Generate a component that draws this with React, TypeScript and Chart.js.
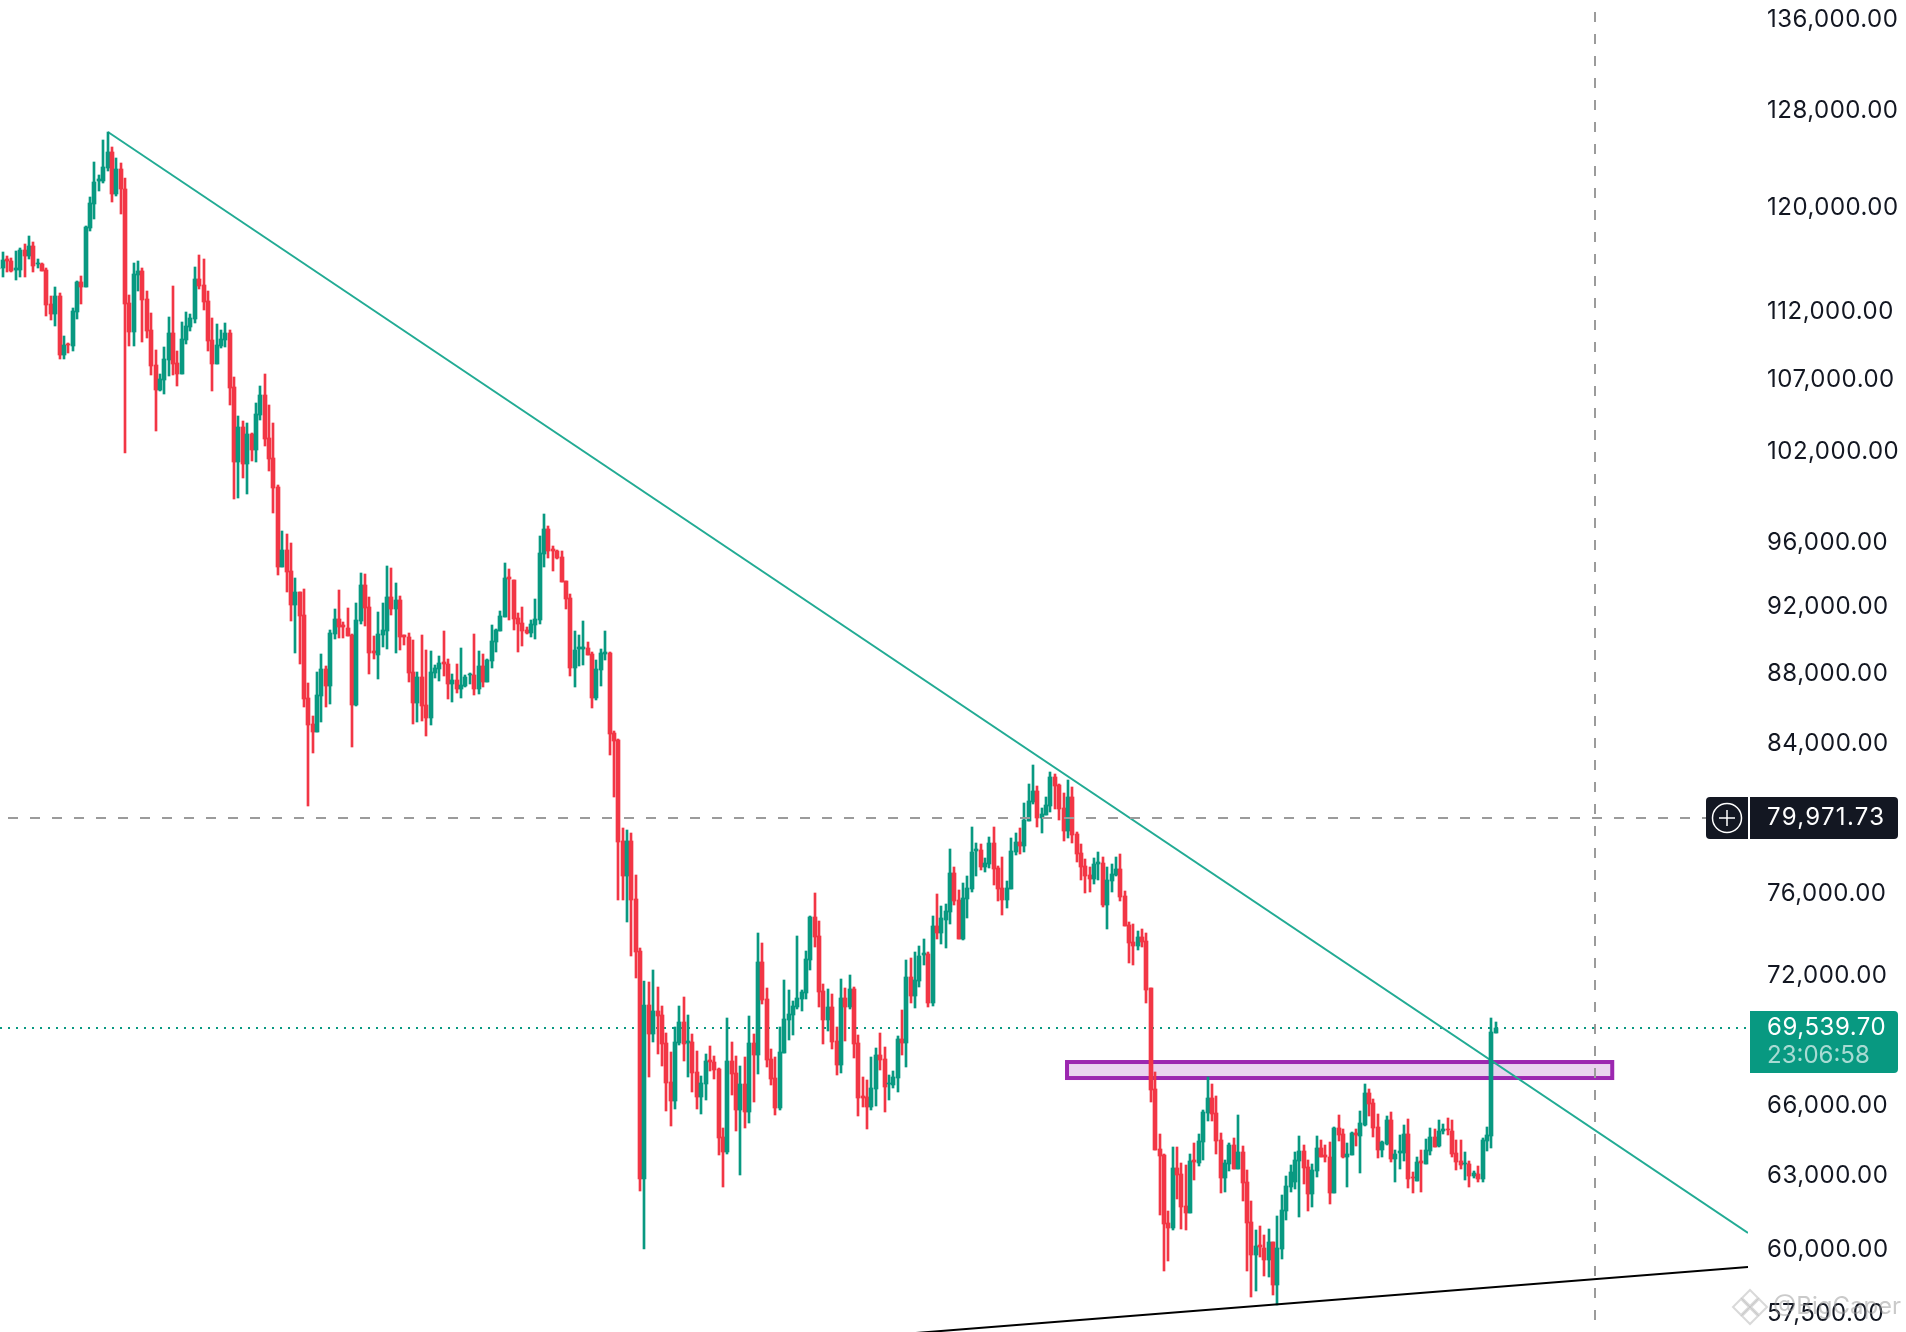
import React, { useEffect, useRef } from "react";
import { Chart, registerables } from "chart.js";

Chart.register(...registerables);

const priceTicks = [136000, 128000, 120000, 112000, 107000, 102000, 96000, 92000, 88000, 84000, 76000, 72000, 66000, 63000, 60000, 57500];

const opens = [
115270,115320,115990,115840,115170,115140,116690,116220,117000,115600,
115600,115140,112570,111830,113170,108810,109610,109470,111980,114200,
113850,118400,120310,122170,122170,123230,124550,121120,123140,121520,
112650,110490,114760,115070,112950,110640,108090,106300,107020,108450,
110410,108230,107440,109900,110860,111460,114430,113980,112800,109900,
108160,109470,109900,110410,106520,101330,103750,101190,103220,102140,
104550,105950,102950,101600,99660,94500,95570,94250,92140,92940,
91520,86610,85120,84670,86720,88290,87300,90380,91280,90900,
90740,90320,86200,91160,93370,92010,89360,89120,90320,90560,
92630,91890,92450,90300,90200,88120,86320,87820,86200,85460,
88060,88290,88710,88590,87410,87650,87130,87300,87920,87940,
87130,88470,87530,88770,89890,90560,91400,93870,93680,91340,
91040,90620,90440,90920,91220,95320,96920,95630,95510,95130,
93620,92570,88350,89480,89480,89540,89180,86610,88240,89180,
89240,84620,84220,78740,76930,78740,75760,73190,62880,70600,
69250,70310,70120,68830,67060,66230,68820,69810,68830,68880,
67520,66410,66990,68070,67980,67660,64660,64020,68020,67470,
65840,66990,65750,68830,68290,72650,70880,68110,67260,65920,
68380,69900,70130,70510,70880,71160,72750,74860,73920,71260,
69900,70500,68930,67840,70930,70500,71360,68830,66450,66410,
65970,66760,68290,68110,66970,66940,67260,69020,68830,71920,
71020,71740,72990,73020,70700,74410,74060,74700,75110,77080,
75710,73770,75760,76260,78220,78270,77390,77550,78640,77340,
76320,75710,76260,78170,78690,78480,79800,80810,81390,79960,
80120,80600,82170,81740,80490,79270,81080,79110,78120,77450,
76980,76770,77550,77600,75460,76670,76980,77290,75910,74460,
73620,73430,73870,73670,71380,66760,64150,63890,61060,60860,
63340,63090,61760,61470,63680,63560,64450,65700,66360,65700,
64530,62920,63510,64320,63300,64010,62760,61100,59780,60180,
60060,59580,60300,58600,60010,61550,62550,62750,63640,64060,
63380,62250,63220,64190,63890,63800,62300,65060,64790,63800,
63890,64840,64700,65190,66580,66140,65100,64110,64360,65400,
63720,63990,63980,64790,62960,62800,63640,63510,64060,64660,
64280,64920,65000,64920,63980,63640,63510,63510,63000,63090,
62880,64490,64700,69300];

const highs = [
115910,116530,116220,116060,116610,116840,117150,117780,117310,115990,
115680,115290,113170,113850,113400,110190,109690,112270,114280,114670,
118560,120870,123720,122660,125550,126210,124970,124050,123640,122410,
113250,115680,115840,115290,113550,111900,109180,107440,109390,111600,
113900,109100,111230,111980,111830,115370,116300,115990,113550,111530,
111080,110630,111150,110630,107230,104480,104130,103980,103280,105380,
106590,107440,105240,103980,99800,96790,96600,96020,93810,92940,
93120,87470,85570,88120,89180,88470,90620,91890,93060,91100,
91950,90380,92260,94120,94060,92630,90260,91710,92260,94560,
94430,93490,92700,90320,90440,90020,88120,90320,89420,89360,
88500,89060,90560,88880,88000,88590,89540,87940,88060,90380,
89360,89180,88880,90900,90660,91770,94750,94370,93680,91650,
92010,90800,91220,92510,96450,97890,97110,95820,95570,95510,
93620,92820,90560,90320,91160,89890,89300,88830,89480,90560,
89300,84730,84280,79430,79320,79160,76980,73330,71740,71690,
72260,71450,70550,69300,68430,69580,70550,70980,70120,69250,
68460,67340,68340,68710,68250,67700,65050,69990,68880,68250,
67790,68200,70090,69250,74070,73580,71400,68570,68200,69570,
71780,71310,70790,73920,71310,73190,74910,76050,74660,71590,
71360,71120,69570,71840,71400,72020,71450,69200,67300,67170,
68200,68610,69300,68650,67390,67570,69160,70360,72750,72850,
73140,73430,73770,73120,74910,76020,75410,75510,78330,77390,
76220,76560,76930,79480,78640,78580,77860,78950,79480,77450,
77910,76670,78900,79160,79430,80760,81790,82830,81670,80490,
81080,82440,82330,81790,81300,82000,81620,79220,78580,77810,
77390,77860,78170,77910,77390,77550,77910,78060,76170,74610,
74510,74160,74260,74060,71380,67520,64790,63940,61550,64230,
64230,63560,63470,63940,64400,64790,65830,67290,66980,66450,
64830,63680,64400,64620,65610,64270,63260,61960,60780,60950,
60580,60820,60300,61340,62210,63000,63470,64010,64700,64320,
63680,63510,64700,64530,64320,64450,65100,65610,64990,64400,
64880,64990,65790,66980,66760,66320,65660,64490,65570,65740,
64110,64750,65180,65440,63170,63800,64110,64570,65060,64990,
65400,65220,65480,65400,64530,64530,64010,63640,63220,63430,
64620,65100,69990,69810];

const lows = [
113800,114640,115020,115000,114340,114640,114640,116010,115020,115320,
115070,111680,111380,110930,108520,108520,108960,109100,111460,112570,
113850,118170,119110,121360,122010,122980,120470,120960,119520,101930,
109470,109470,113550,109760,110050,107370,103420,106230,106020,107300,
107370,106590,107440,109610,110560,111160,113680,112130,109100,106230,
108160,109320,109390,105240,98860,98930,100260,99200,101400,101330,
104200,102410,100720,97950,94000,94500,92940,91160,89240,88590,
86090,80600,83500,84670,85240,86090,86260,90080,90140,90140,
90260,83830,86150,90980,90860,88000,88880,87700,89600,89480,
91520,89240,89420,89720,87530,85120,85220,85290,84450,85050,
87760,87590,87880,86550,86370,86900,86610,87240,87410,86780,
86840,87240,87530,88350,89300,90560,91400,91220,90620,89300,
89660,90380,90200,90080,90980,94500,95070,94250,95000,93560,
91890,87880,87240,88470,88530,89120,86030,86490,87300,88830,
83390,81090,75710,75710,74610,72940,71880,62380,60020,67300,
68880,68340,67790,65790,65140,65880,68750,68020,67300,66630,
65880,65660,66270,67570,67210,63890,62550,63940,66500,64920,
63050,65050,65280,66190,67430,70650,67750,66950,65620,65840,
68380,68980,69200,70410,70320,70880,72260,73380,70500,68790,
69390,68570,67380,67480,68930,70410,68160,65580,65970,65010,
65840,66010,67610,65750,66270,66800,66630,68290,67750,70690,
70450,71450,72500,70510,70550,73770,73520,73330,74510,75460,
73770,73720,74810,76120,76930,77240,77130,77340,76460,75660,
74950,75310,76260,78000,78060,78170,79800,80700,79480,79160,
80120,80280,80440,79850,78740,78900,78640,77650,76720,76070,
76120,76510,76720,75360,74260,76120,76930,75660,74410,72600,
72500,73220,73380,70700,66190,64110,61390,59140,59540,60780,
62050,60820,60780,61470,62840,63430,63680,65350,65350,63940,
62290,62340,63220,63300,63300,61960,59140,58130,58370,59700,
58950,58910,58220,57820,59620,61190,62340,62460,61310,62670,
61550,61720,62960,63800,63600,61840,62300,64490,63760,62550,
63890,64280,63130,65140,65570,64660,63760,63800,64320,63600,
62750,63300,63640,62500,62300,62800,62340,63510,63890,64230,
64230,64790,64750,63800,63260,63300,62840,62550,62920,62760,
62760,64060,64190,69300];

const closes = [
115320,115910,115840,115070,115290,116690,116220,117000,115450,115650,
115070,112520,111830,113170,108810,109540,109510,112050,114200,113850,
118480,120390,122090,122330,123310,124550,121120,123140,121500,112570,
110490,114840,115070,112870,110560,108010,106300,107090,108520,110410,
108160,107440,109980,110930,111530,114430,113900,112720,109830,108160,
109540,109980,110410,106450,101330,103750,101190,103220,102140,104620,
105950,102880,101530,99590,94500,95570,94180,92140,92940,91460,
86550,85070,84670,86780,88290,87300,90440,91280,90800,90820,
90260,86200,91220,93370,91950,89240,89260,90380,90620,92630,
91890,92450,90200,90220,88060,86320,87820,86150,85460,88120,
88350,88650,88590,87410,87650,87130,87360,87820,88000,87130,
88470,87530,88830,89950,90620,91460,93810,93740,91280,90980,
90560,90440,90980,91280,95380,96920,95510,95510,95070,93560,
92510,88350,89420,89570,89570,89120,86610,88290,89240,89280,
84560,84170,78690,76930,78740,75710,73140,62880,70600,69250,
70310,70090,68790,67030,66230,68880,69810,68790,68930,67480,
66410,67030,68020,67980,67610,64620,64020,68020,67430,65840,
66990,65750,68830,68290,72650,70830,68060,67210,65920,68430,
69950,70180,70550,70930,71210,72800,74860,73870,71210,69900,
70500,68880,67840,70930,70500,71360,68790,66360,66360,65970,
66800,68290,68060,66850,67030,67300,69020,68830,71920,71020,
71780,72940,73090,70700,74410,74060,74810,75160,77080,75660,
73770,75810,76320,78170,78330,77390,77600,78640,77290,76260,
75710,76320,78220,78690,78480,79850,80870,81390,79960,80170,
80650,82170,81670,80440,79270,81080,79060,78060,77390,76930,
76770,77550,77650,75460,76720,77030,77290,75860,74410,73570,
73430,73870,73620,71300,66720,64110,63850,61020,60860,63340,
63050,61720,61470,63640,63600,64490,65740,66360,65660,64490,
62920,63560,64320,63300,64010,62710,61060,59780,60140,60100,
59580,60300,58600,60060,61590,62590,63170,63680,64060,63340,
62250,63260,64190,63800,63800,62300,65060,64750,63800,63940,
64840,64750,65270,66580,66100,65060,64110,64450,65400,63720,
63940,64060,64790,62880,62910,63600,63560,64110,64660,64230,
64920,65000,64950,63940,63600,63470,63560,63000,63130,62880,
64530,64750,69340,69540];

const downtrend = [
  { x: 25.1, y: 126215 },
  { x: 400.8, y: 60660 },
];
const supportLine = [
  { x: 206.6, y: 56708 },
  { x: 400.8, y: 59302 },
];
const resistanceZone = { xMin: 244.8, xMax: 369.7, yMin: 67250, yMax: 67970 };
const crosshairPrice = 79971.73;
const crosshairTime = 365.8;
const lastPrice = 69539.7;
const countdown = "23:06:58";
const watermark = "@BigCaper";

const UP = "#089981";
const DOWN = "#f23645";
const FONT = "Inter";

function money(v: number) {
  return v.toLocaleString("en-US", { minimumFractionDigits: 2, maximumFractionDigits: 2 });
}

const snapBars = {
  id: "snapBars",
  beforeDraw(chart: any) {
    chart.ctx.letterSpacing = "0.5px";
  },
  beforeDatasetsDraw(chart: any) {
    chart.data.datasets.forEach((ds: any, i: number) => {
      if (ds.type === "line") return;
      chart.getDatasetMeta(i).data.forEach((el: any) => {
        el.x = Math.round(el.x);
        el.y = Math.round(el.y);
        el.base = Math.round(el.base);
        if (el.y === el.base) el.base = el.y + 1;
      });
    });
    const { ctx, chartArea } = chart;
    const xs = chart.scales.x;
    const ys = chart.scales.y;
    // price line of the last trade, under the candles
    ctx.save();
    ctx.strokeStyle = UP;
    ctx.lineWidth = 2;
    ctx.setLineDash([2, 6]);
    ctx.beginPath();
    const py = Math.round(ys.getPixelForValue(lastPrice));
    ctx.moveTo(0, py);
    ctx.lineTo(chartArea.right, py);
    ctx.stroke();
    ctx.setLineDash([]);
    // resistance zone
    const l = xs.getPixelForValue(resistanceZone.xMin);
    const r = xs.getPixelForValue(resistanceZone.xMax);
    const t = ys.getPixelForValue(resistanceZone.yMax);
    const b = ys.getPixelForValue(resistanceZone.yMin);
    ctx.fillStyle = "#ead3ef";
    ctx.fillRect(l, t, r - l, b - t);
    ctx.strokeStyle = "#9c27b0";
    ctx.lineWidth = 4;
    ctx.strokeRect(l, t, r - l, b - t);
    ctx.restore();
  },
};

function roundBox(ctx: any, x: number, y: number, w: number, h: number, radii: number[], fill: string) {
  ctx.fillStyle = fill;
  ctx.beginPath();
  ctx.roundRect(x, y, w, h, radii);
  ctx.fill();
}

const overlays = {
  id: "overlays",
  afterDatasetsDraw(chart: any) {
    const { ctx, chartArea } = chart;
    const xs = chart.scales.x;
    const ys = chart.scales.y;
    const cy = Math.round(ys.getPixelForValue(crosshairPrice));
    const cx = Math.round(xs.getPixelForValue(crosshairTime));
    const ly = Math.round(ys.getPixelForValue(lastPrice));
    ctx.save();
    ctx.strokeStyle = "#9b9b9b";
    ctx.lineWidth = 2;
    ctx.setLineDash([10, 12]);
    ctx.beginPath();
    ctx.moveTo(8, cy);
    ctx.lineTo(1706, cy);
    ctx.moveTo(cx, 12);
    ctx.lineTo(cx, 1322);
    ctx.stroke();
    ctx.setLineDash([]);

    // crosshair price badge
    const right = chartArea.right;
    roundBox(ctx, right - 42, cy - 21, 42, 42, [4, 0, 0, 4], "#131722");
    roundBox(ctx, right + 2, cy - 21, 148, 42, [0, 4, 4, 0], "#131722");
    ctx.strokeStyle = "#ffffff";
    ctx.lineWidth = 1.5;
    ctx.beginPath();
    ctx.arc(right - 21, cy, 14.5, 0, Math.PI * 2);
    ctx.moveTo(right - 29, cy);
    ctx.lineTo(right - 13, cy);
    ctx.moveTo(right - 21, cy - 8);
    ctx.lineTo(right - 21, cy + 8);
    ctx.stroke();
    ctx.font = `24px ${FONT}`;
    ctx.textAlign = "left";
    ctx.textBaseline = "middle";
    ctx.fillStyle = "#ffffff";
    ctx.letterSpacing = "1.3px";
    ctx.fillText(money(crosshairPrice), 1767, cy);

    // last price badge
    roundBox(ctx, right + 2, ly - 17, 148, 62, [0, 4, 4, 0], UP);
    ctx.fillStyle = "#ffffff";
    ctx.letterSpacing = "0.55px";
    ctx.fillText(money(lastPrice), 1767, ly);
    ctx.fillStyle = "rgba(255,255,255,0.65)";
    ctx.letterSpacing = "0px";
    ctx.fillText(countdown, 1767, ly + 28);
    ctx.restore();
  },
  afterDraw(chart: any) {
    const { ctx } = chart;
    ctx.save();
    // source watermark
    ctx.strokeStyle = "rgba(170,170,170,0.45)";
    ctx.lineWidth = 2;
    const mark = (x: number, y: number, s: number) => {
      ctx.beginPath();
      ctx.moveTo(x, y - s);
      ctx.lineTo(x + s, y);
      ctx.lineTo(x, y + s);
      ctx.lineTo(x - s, y);
      ctx.closePath();
      ctx.stroke();
    };
    mark(1750, 1298, 8);
    mark(1750, 1316, 8);
    mark(1741, 1307, 8);
    mark(1759, 1307, 8);
    ctx.font = `24px ${FONT}`;
    ctx.fillStyle = "rgba(150,150,150,0.5)";
    ctx.textAlign = "left";
    ctx.textBaseline = "middle";
    ctx.letterSpacing = "0px";
    ctx.fillText(watermark, 1773, 1307);
    ctx.restore();
  },
};

export default function App() {
  const ref = useRef<HTMLCanvasElement>(null);
  useEffect(() => {
    if (!ref.current) return;
    const colors = closes.map((c, i) => (c >= opens[i] ? UP : DOWN));
    const chart = new Chart(ref.current, {
      type: "bar",
      data: {
        datasets: [
          {
            type: "line",
            data: downtrend,
            borderColor: "#22ab94",
            borderWidth: 2,
            pointRadius: 0,
            order: 4,
          },
          {
            type: "line",
            data: supportLine,
            borderColor: "#000000",
            borderWidth: 2,
            pointRadius: 0,
            order: 0,
          },
          {
            data: highs.map((h, i) => ({ x: i, y: [lows[i], h] })),
            backgroundColor: colors,
            barThickness: 2,
            grouped: false,
            order: 3,
          },
          {
            data: opens.map((o, i) => ({ x: i, y: [Math.min(o, closes[i]), Math.max(o, closes[i])] })),
            backgroundColor: colors,
            barThickness: 4,
            grouped: false,
            order: 2,
          },
        ],
      } as any,
      options: {
        animation: false,
        responsive: false,
        devicePixelRatio: 1,
        events: [],
        layout: { padding: 0 },
        plugins: { legend: { display: false }, tooltip: { enabled: false }, title: { display: false } },
        scales: {
          x: { type: "linear", display: false, min: 0.3666, max: 400.8, offset: false, grid: { display: false } },
          y: {
            type: "logarithmic",
            position: "right",
            min: 56792,
            max: 137806,
            bounds: "data",
            grid: { display: false, drawTicks: false },
            border: { display: false },
            afterFit: (s: any) => {
              s.width = 158;
              s.paddingTop = 0;
              s.paddingBottom = 0;
            },
            afterBuildTicks: (s: any) => {
              s.ticks = priceTicks.map((value) => ({ value }));
            },
            ticks: {
              autoSkip: false,
              padding: 19,
              maxRotation: 0,
              color: "#131722",
              font: { family: FONT, size: 24 },
              callback: (v: any) => money(Number(v)),
            },
          },
        },
      } as any,
      plugins: [snapBars, overlays],
    });
    return () => chart.destroy();
  }, []);
  return (
    <canvas
      ref={ref}
      width={1906}
      height={1332}
      style={{ position: "fixed", left: 0, top: 0, display: "block", background: "#ffffff" }}
    />
  );
}
